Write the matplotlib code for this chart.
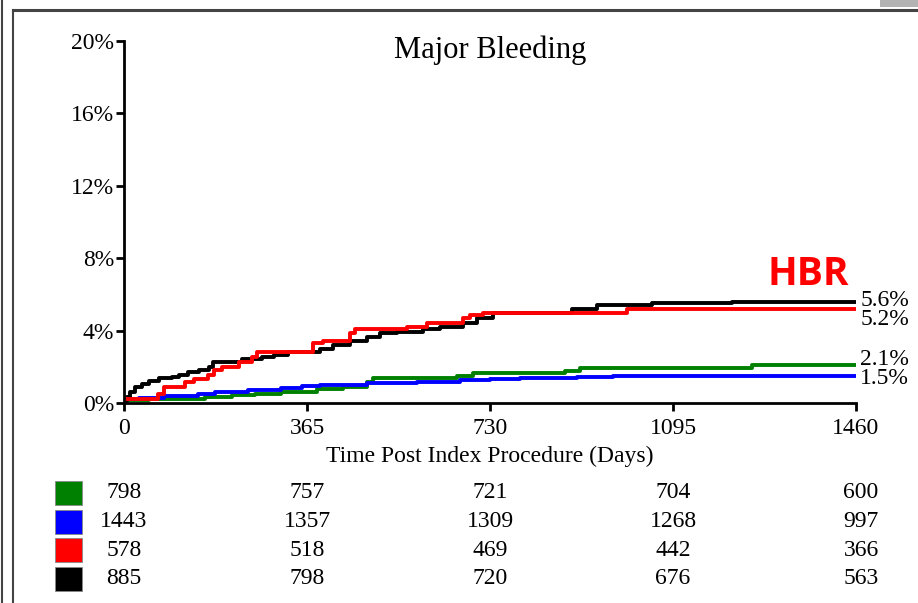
import matplotlib.pyplot as plt
from matplotlib.patches import Rectangle
from matplotlib.lines import Line2D

# Data ==========================
black_days = [0, 5, 12, 22, 35, 50, 70, 95, 110, 128, 150, 170, 178, 235, 275, 300, 327, 390, 417, 451,
              484, 510, 544, 597, 630, 676, 704, 736, 893, 943, 1053, 1212, 1460]
black_pct = [0.1, 0.35, 0.6, 0.88, 1.05, 1.2, 1.38, 1.44, 1.55, 1.7, 1.8, 2.0, 2.26, 2.45, 2.54, 2.65, 2.8, 3.0,
             3.2, 3.45, 3.65, 3.85, 3.95, 4.1, 4.2, 4.4, 4.7, 5.0, 5.2, 5.4, 5.5, 5.6, 5.6]

red_days = [0, 68, 80, 122, 140, 168, 180, 195, 230, 255, 265, 377, 397, 451, 461, 564, 604, 676, 690, 716,
            1003, 1460]
red_pct = [0.2, 0.5, 0.88, 1.16, 1.35, 1.55, 1.82, 2.0, 2.26, 2.54, 2.8, 3.3, 3.4, 3.85, 4.08, 4.2, 4.4, 4.7,
           4.86, 5.0, 5.2, 5.2]

blue_days = [0, 30, 80, 148, 181, 247, 314, 355, 390, 484, 584, 670, 730, 790, 903, 975, 1460]
blue_pct = [0.2, 0.3, 0.4, 0.5, 0.6, 0.72, 0.82, 0.94, 1.0, 1.1, 1.16, 1.27, 1.32, 1.38, 1.44, 1.5, 1.5]

green_days = [0, 49, 161, 215, 261, 314, 384, 437, 484, 497, 664, 697, 880, 910, 1252, 1460]
green_pct = [0.15, 0.2, 0.33, 0.42, 0.5, 0.6, 0.77, 0.88, 1.16, 1.38, 1.5, 1.66, 1.77, 1.93, 2.1, 2.1]

end_labels = ['5.6%', '5.2%', '2.1%', '1.5%']
x_ticks = [0, 365, 730, 1095, 1460]
y_ticks = [0, 4, 8, 12, 16, 20]

at_risk = {
    'green': [798, 757, 721, 704, 600],
    'blue': [1443, 1357, 1309, 1268, 997],
    'red': [578, 518, 469, 442, 366],
    'black': [885, 798, 720, 676, 563],
}

# Plot ==========================
serif = 'Liberation Serif'
fs = 17
fig = plt.figure(figsize=(9.18, 6.03), dpi=100)
ax = fig.add_axes([124 / 918, 1 - 403 / 603, 732 / 918, 362 / 603])

ax.plot(green_days, green_pct, color='#008000', lw=2.8, drawstyle='steps-post')
ax.plot(blue_days, blue_pct, color='#0000ff', lw=2.8, drawstyle='steps-post')
ax.plot(black_days, black_pct, color='black', lw=2.8, drawstyle='steps-post')
ax.plot(red_days, red_pct, color='#ff0000', lw=2.8, drawstyle='steps-post')

ax.set_xlim(0, 1460)
ax.set_ylim(0, 20)
ax.set_xticks(x_ticks)
ax.set_yticks(y_ticks)
ax.set_xticklabels([str(t) for t in x_ticks], fontfamily=serif, fontsize=fs)
ax.set_yticklabels([f'{t}%' for t in y_ticks], fontfamily=serif, fontsize=fs)
ax.tick_params(axis='both', direction='out', length=6, width=2, color='black')
ax.tick_params(axis='y', pad=1)
ax.tick_params(axis='x', pad=5)
for side in ['top', 'right']:
    ax.spines[side].set_visible(False)
for side in ['left', 'bottom']:
    ax.spines[side].set_linewidth(2)
ax.set_xlabel('Time Post Index Procedure (Days)', fontfamily=serif, fontsize=fs, labelpad=5)
ax.text(0.5, 1.015, 'Major Bleeding', transform=ax.transAxes, ha='center', va='top',
        fontfamily=serif, fontsize=22)

# end of curve labels
finals = [black_pct[-1], red_pct[-1], green_pct[-1], blue_pct[-1]]
nudges = [1, -8, 4, -2]
for lab, val, dy in zip(end_labels, finals, nudges):
    ax.annotate(lab, (1460, val), xytext=(3, dy), textcoords='offset points',
                ha='left', va='center', fontfamily=serif, fontsize=fs, annotation_clip=False)

ax.text(0.99, 0.355, 'HBR', transform=ax.transAxes, ha='right', va='center',
        color='#ff0000', fontfamily='Open Sans', fontweight='bold', fontsize=28)

# number at risk
row_colors = {'green': '#008000', 'blue': '#0000ff', 'red': '#ff0000', 'black': 'black'}
col_shift = [0, 0, 0, 0, 5]
for i, (key, counts) in enumerate(at_risk.items()):
    y_px = 493 + i * 28.5
    y_fig = 1 - y_px / 603
    fig.patches.append(Rectangle((55 / 918, y_fig - 12 / 603), 27 / 918, 24 / 603,
                                 transform=fig.transFigure, facecolor=row_colors[key],
                                 edgecolor='#888888', lw=0.6))
    for t, c, sh in zip(x_ticks, counts, col_shift):
        x_px = ax.transData.transform((t, 0))[0] + sh
        fig.text(x_px / 918, y_fig, str(c), ha='center', va='center', fontfamily=serif, fontsize=fs)

# frame around the chart
fig.add_artist(Line2D([2 / 918, 2 / 918], [0, 1], transform=fig.transFigure, color='#444444', lw=1.5))
fig.add_artist(Line2D([13 / 918, 13 / 918], [0, 1 - 10 / 603], transform=fig.transFigure, color='#444444', lw=1.5))
fig.add_artist(Line2D([13 / 918, 1], [1 - 10 / 603, 1 - 10 / 603], transform=fig.transFigure, color='#444444', lw=2.2))
fig.patches.append(Rectangle((880 / 918, 1 - 7 / 603), 38 / 918, 7 / 603, transform=fig.transFigure,
                             facecolor='#b3b3b3', edgecolor='none'))

fig.savefig('out.png', dpi=100)
